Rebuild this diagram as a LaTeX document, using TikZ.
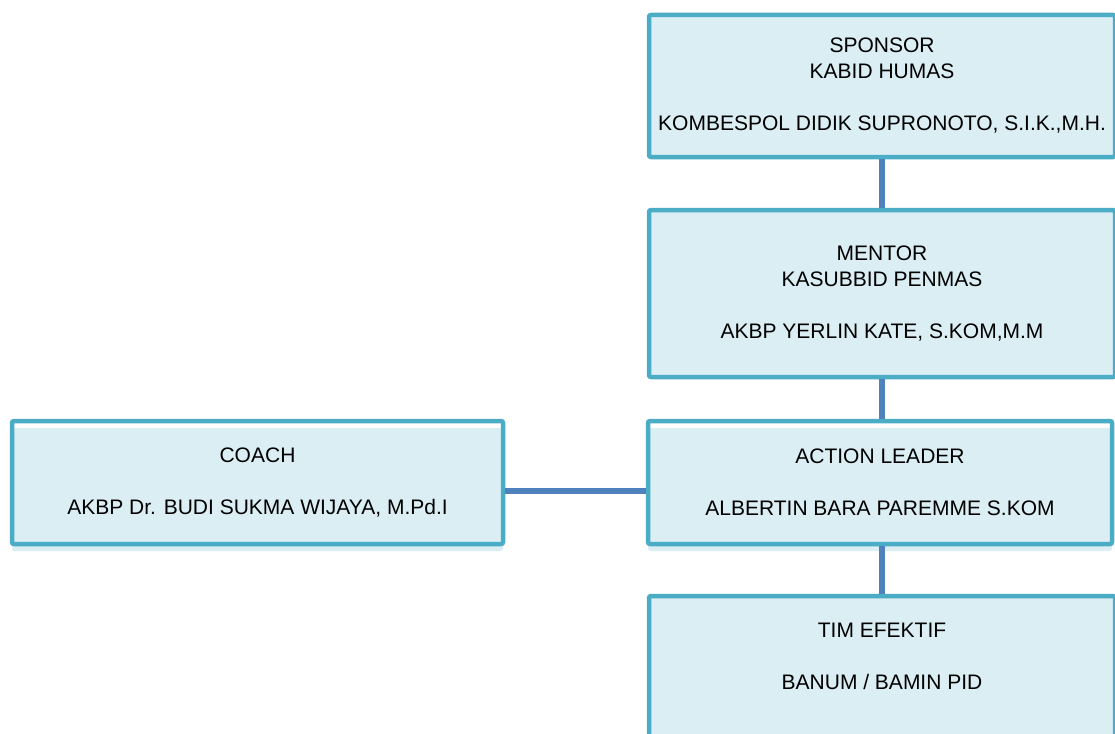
\documentclass[tikz,border=0pt]{standalone}
\usepackage{fontspec}
\setmainfont{Liberation Sans}
\usetikzlibrary{shadows}

\definecolor{boxline}{HTML}{4BACC6}
\definecolor{boxfill}{HTML}{DAEEF3}
\definecolor{linkblue}{HTML}{4F81BD}

\tikzset{
  orgbox/.style={draw=boxline, fill=boxfill, line width=4.5pt, rounded corners=2pt,
    align=center, inner sep=0pt, font=\fontsize{21}{26}\selectfont},
  shiftbox/.style={orgbox, fill=none,
    drop shadow={shadow xshift=0pt, shadow yshift=-7pt, fill=boxfill, opacity=1}},
  link/.style={draw=linkblue, line width=6pt},
}

\begin{document}
\begin{tikzpicture}[x=1pt, y=-1pt]
\clip (0,0) rectangle (1115,733);

\node[orgbox, minimum width=466pt, minimum height=142pt] (sponsor) at (882,86)
  {SPONSOR\\KABID HUMAS\\[26pt]KOMBESPOL DIDIK SUPRONOTO, S.I.K.,M.H.};
\node[orgbox, minimum width=466pt, minimum height=167pt] (mentor) at (882,293.5)
  {MENTOR\\KASUBBID PENMAS\\[26pt]AKBP YERLIN KATE, S.KOM,M.M};
\node[shiftbox, minimum width=464pt, minimum height=123pt] (action) at (880,482.5)
  {ACTION LEADER\\[26pt]ALBERTIN BARA PAREMME S.KOM};
\node[shiftbox, minimum width=491pt, minimum height=123pt] (coach) at (257.5,482.5)
  {COACH\\[26pt]AKBP Dr. BUDI SUKMA WIJAYA, M.Pd.I};
\node[orgbox, minimum width=466pt, minimum height=144pt] (tim) at (882,668)
  {TIM EFEKTIF\\[26pt]BANUM / BAMIN PID\\[-3pt]\mbox{}};

% connectors
\draw[link] (sponsor.south) -- (mentor.north);
\draw[link] (mentor.south) -- (mentor.south |- action.north);
\draw[link] (tim.north |- action.south) -- (tim.north);
\draw[link] ([yshift=-8.5pt]coach.east) -- ([yshift=-8.5pt]action.west);
\end{tikzpicture}
\end{document}
